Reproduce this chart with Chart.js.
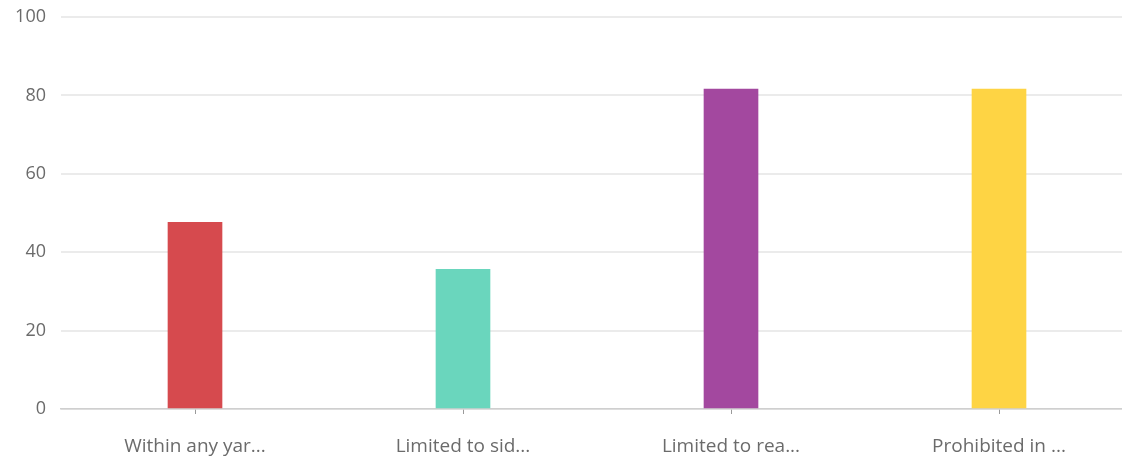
<!DOCTYPE html>
<html>
<head>
<meta charset="utf-8">
<script src="https://cdn.jsdelivr.net/npm/chart.js@4"></script>
<style>
  html, body { margin: 0; padding: 0; overflow: hidden; background: #fff; }
  #wrap { width: 1133px; height: 459px; position: relative; }
</style>
</head>
<body>
<div id="wrap"><canvas id="c"></canvas></div>
<script>
const categories = ["Within any yar...", "Limited to sid...", "Limited to rea...", "Prohibited in ..."];
const values = [47.6, 35.6, 81.6, 81.6];
const barColors = ["#d64a4e", "#6ad6bd", "#a3489f", "#fed444"];
const yTicks = [0, 20, 40, 60, 80, 100];

new Chart(document.getElementById('c'), {
  type: 'bar',
  data: {
    labels: categories,
    datasets: [{
      data: values,
      backgroundColor: barColors,
      borderWidth: 0,
      barThickness: 54
    }]
  },
  options: {
    responsive: true,
    maintainAspectRatio: false,
    animation: false,
    layout: { padding: { top: 0, right: 0, left: 0, bottom: 0 } },
    plugins: { legend: { display: false }, tooltip: { enabled: false } },
    scales: {
      y: {
        min: 0, max: 100,
        afterBuildTicks: (axis) => { axis.ticks = yTicks.map(v => ({ value: v })); },
        afterFit: (axis) => { axis.width = 61; axis.paddingTop = 17; },
        border: { display: false },
        grid: { color: '#ebebeb', lineWidth: 2, drawTicks: false },
        ticks: { color: '#6b6b6b', padding: 15, font: { family: 'Open Sans', size: 18 } }
      },
      x: {
        afterFit: (axis) => { axis.height = 50; },
        border: { display: true, color: '#cfcfcf', width: 1.5 },
        grid: { display: true, drawOnChartArea: false, drawTicks: true, tickLength: 5, offset: false, color: '#9a9a9a' },
        ticks: { color: '#6b6b6b', padding: 21, maxRotation: 0, autoSkip: false, font: { family: 'Open Sans', size: 19 } }
      }
    }
  }
});
</script>
</body>
</html>
